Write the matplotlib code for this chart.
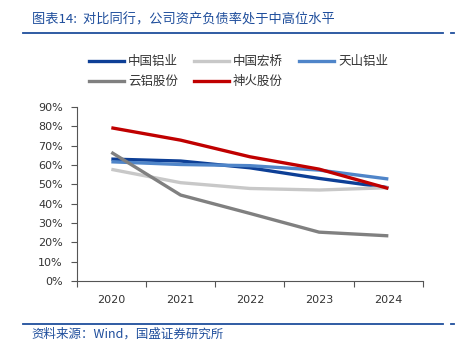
import matplotlib
matplotlib.use('Agg')
import matplotlib.pyplot as plt
from matplotlib.lines import Line2D

plt.rcParams['font.family'] = ['Noto Sans CJK SC', 'DejaVu Sans']

years = ['2020', '2021', '2022', '2023', '2024']
chalco = [63.1, 62.1, 58.6, 53.1, 48.3]      # 中国铝业
hongqiao = [57.8, 50.9, 47.9, 47.1, 48.3]    # 中国宏桥
tianshan = [61.7, 60.3, 59.7, 57.4, 52.8]    # 天山铝业
yunlv = [66.6, 44.5, 35.0, 25.3, 23.4]       # 云铝股份
shenhuo = [79.3, 72.9, 64.3, 57.9, 47.9]     # 神火股份

names = ['中国铝业', '中国宏桥', '天山铝业', '云铝股份', '神火股份']
colors = ['#0d3f96', '#c8c8c8', '#4f85c9', '#808080', '#c00000']

fig = plt.figure(figsize=(4.55, 3.5), dpi=100)
ax = fig.add_axes([0.1686, 0.197, 0.761, 0.497])

x = list(range(len(years)))
series = [chalco, hongqiao, tianshan, yunlv, shenhuo]
for vals, c in zip(series, colors):
    ax.plot(x, vals, color=c, lw=2.4, solid_capstyle='butt')

ax.set_xlim(-0.5, 4.5)
ax.set_ylim(0, 90)
ax.set_yticks(range(0, 91, 10))
ax.set_yticklabels([f'{v}%' for v in range(0, 91, 10)], fontsize=8, color='#333333',
                   family='DejaVu Sans')
ax.set_xticks([i - 0.5 for i in range(6)])
ax.set_xticklabels([])
ax.set_xticks(x, minor=True)
ax.set_xticklabels(years, minor=True, fontsize=8, color='#333333', family='DejaVu Sans')
ax.tick_params(axis='x', which='minor', length=0, pad=10)
ax.tick_params(axis='x', which='major', length=4, direction='out', color='#555555')
ax.tick_params(axis='y', length=4, direction='out', color='#555555', pad=6)
for s in ['top', 'right']:
    ax.spines[s].set_visible(False)
for s in ['left', 'bottom']:
    ax.spines[s].set_color('#555555')
    ax.spines[s].set_linewidth(0.8)

# legend filled row by row: 3 per row
order = [0, 3, 1, 4, 2]
handles = [Line2D([0], [0], color=colors[i], lw=2.4) for i in order]
fig.legend(handles, [names[i] for i in order], loc='upper left',
           bbox_to_anchor=(0.17, 0.875), ncol=3, frameon=False, fontsize=9,
           handlelength=2.8, columnspacing=1.25, handletextpad=0.35,
           labelspacing=0.55, labelcolor='#333333')

blue = '#1f4e9c'
fig.text(0.07, 0.942, '图表14:  对比同行，公司资产负债率处于中高位水平', fontsize=9.5,
         color=blue, style='italic', va='center')
fig.add_artist(Line2D([0.05, 0.974], [0.905, 0.905], color=blue, lw=1.3))
fig.add_artist(Line2D([0.992, 0.998], [0.905, 0.905], color=blue, lw=1.3))
fig.add_artist(Line2D([0.05, 0.974], [0.074, 0.074], color=blue, lw=1.3))
fig.add_artist(Line2D([0.992, 0.998], [0.074, 0.074], color=blue, lw=1.3))
fig.text(0.07, 0.045, '资料来源：Wind，国盛证券研究所', fontsize=9, color=blue,
         style='italic', va='center')

fig.savefig('out.png', dpi=100)
